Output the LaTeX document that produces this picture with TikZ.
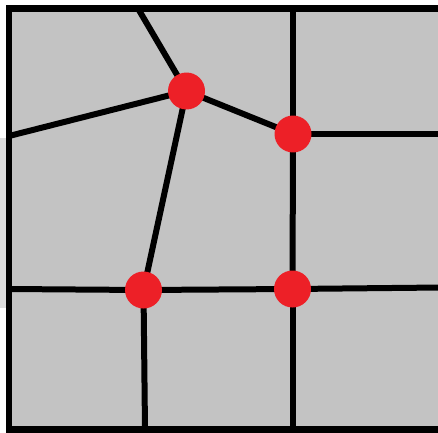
\documentclass[tikz,border=0pt]{standalone}
\usepackage{xcolor}
\usepackage{tikz}
\usetikzlibrary{positioning,backgrounds}
\definecolor{cellgray}{RGB}{195,195,195}
\definecolor{stripgray}{RGB}{220,220,220}
\definecolor{dotred}{RGB}{237,32,39}

\begin{document}
\begin{tikzpicture}[
  x=0.02cm, y=-0.02cm,
  vertex/.style={circle, fill=dotred, draw=none, inner sep=0pt,
                 minimum size=0.74cm},
  edge/.style={line width=0.12cm, black},
  frame/.style={line width=0.13cm, black},
]
\useasboundingbox (0,0) rectangle (438,432);
\clip (0,0) rectangle (438,432);

% mesh vertices
\node[vertex] (a) at (186.5,91) {};
\node[vertex] (b) at (293,134) {};
\node[vertex] (c) at (143.5,290) {};
\node[vertex] (d) at (292.5,289) {};

% end points on the frame
\coordinate (atop) at (138,8.5);
\coordinate (aleft) at (9,136);
\coordinate (btop) at (293,8.5);
\coordinate (bright) at (440.75,134);
\coordinate (cleft) at (9,289);
\coordinate (cbot) at (145,429.5);
\coordinate (dright) at (440.75,287.5);
\coordinate (dbot) at (292.5,429.5);

\begin{scope}[on background layer]
  \fill[white] (0,0) rectangle (438,432);
  \fill[stripgray] (0,138) rectangle (6,308);
  \fill[cellgray] (9,8.5) rectangle (440.75,429.5);

  \draw[edge] (a.center) -- (atop);
  \draw[edge] (a.center) -- (aleft);
  \draw[edge] (a.center) -- (b.center);
  \draw[edge] (a.center) -- (c.center);
  \draw[edge] (b.center) -- (btop);
  \draw[edge] (b.center) -- (bright);
  \draw[edge] (b.center) -- (d.center);
  \draw[edge] (c.center) -- (cleft);
  \draw[edge] (c.center) -- (d.center);
  \draw[edge] (c.center) -- (cbot);
  \draw[edge] (d.center) -- (dright);
  \draw[edge] (d.center) -- (dbot);

  \draw[frame] (9,8.5) rectangle (440.75,429.5);
\end{scope}

\end{tikzpicture}
\end{document}
